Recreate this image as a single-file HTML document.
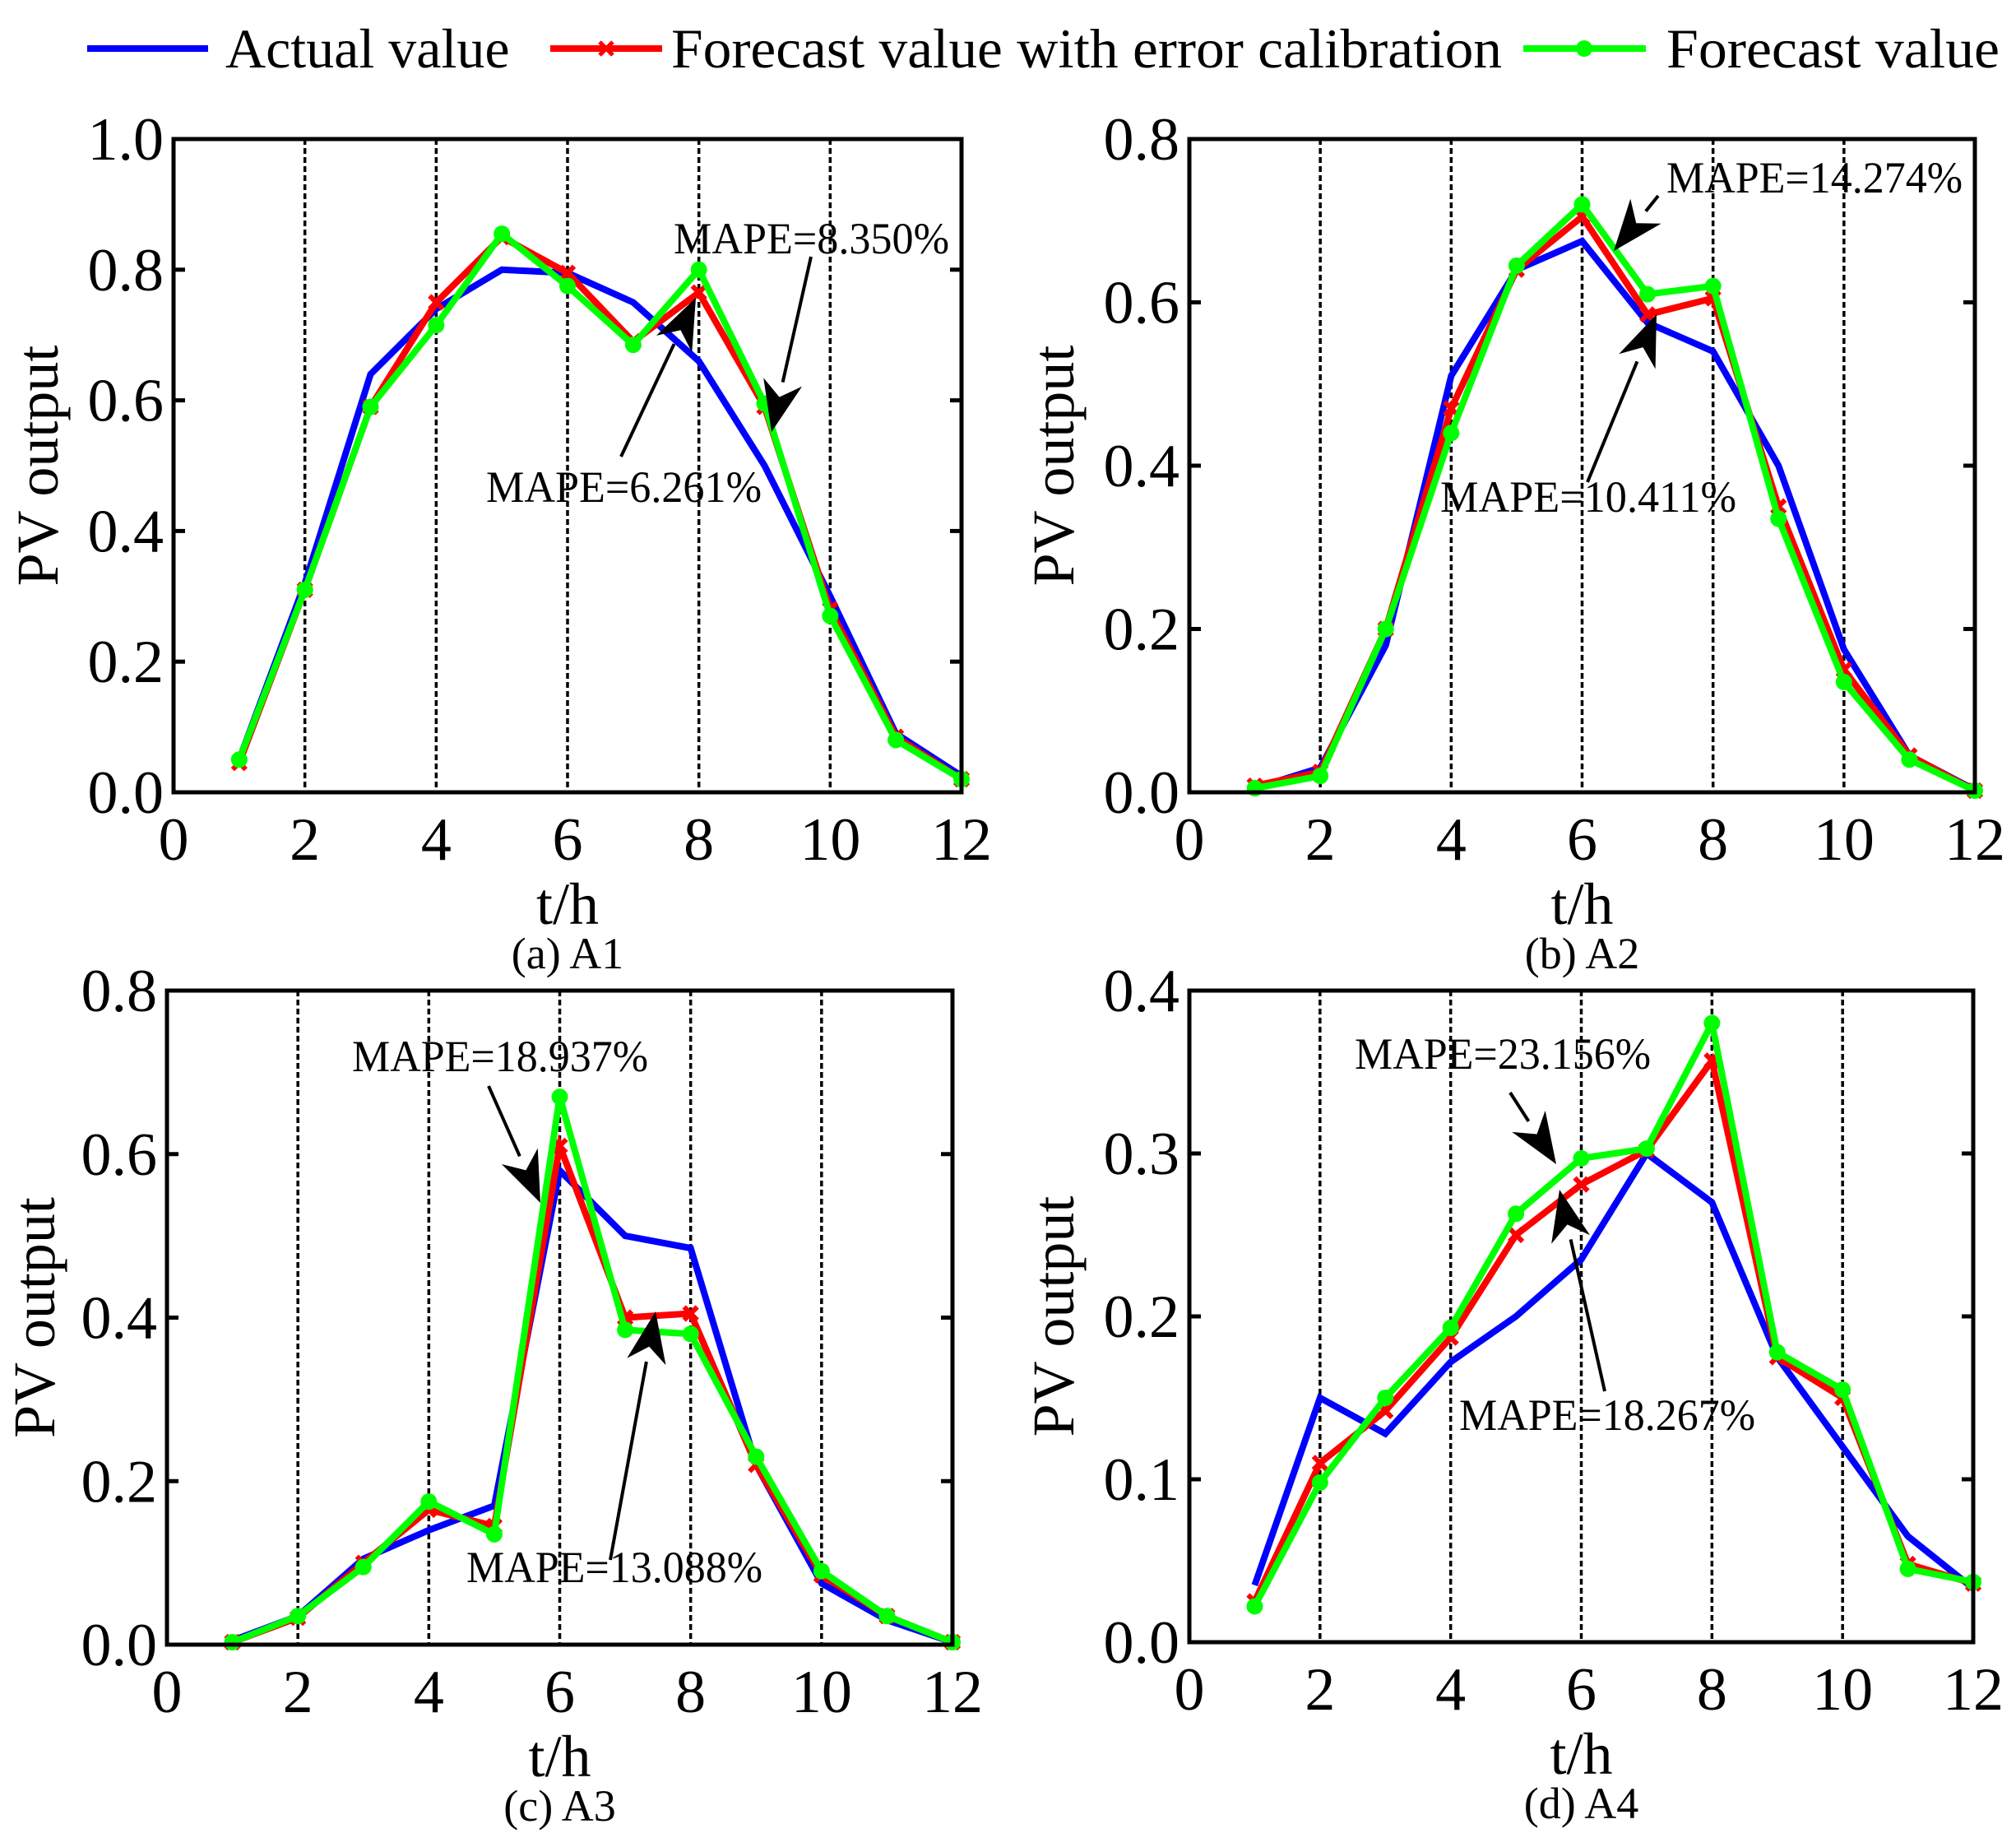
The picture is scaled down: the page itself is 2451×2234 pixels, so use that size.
<!DOCTYPE html>
<html><head><meta charset="utf-8">
<style>
html,body{margin:0;padding:0;background:#fff;}
svg{display:block;font-family:"Liberation Serif",serif;}
</style></head>
<body>
<svg id="fig" width="2451" height="2234" viewBox="0 0 2451 2234">
<g>
  <g>
    <line x1="106" y1="59" x2="253" y2="59" stroke="#0000ff" stroke-width="8"/>
    <text x="274" y="82" font-size="68">Actual value</text>
  </g>
  <g>
    <line x1="669" y1="59" x2="805" y2="59" stroke="#ff0000" stroke-width="8"/>
    <path d="M729,51 L745,67 M745,51 L729,67" stroke="#ff0000" stroke-width="5"/>
    <text x="816" y="82" font-size="68" textLength="1010" lengthAdjust="spacingAndGlyphs">Forecast value with error calibration</text>
  </g>
  <g>
    <line x1="1852" y1="59" x2="2001" y2="59" stroke="#00ff00" stroke-width="8"/>
    <circle cx="1926" cy="59" r="10" fill="#00ff00"/>
    <text x="2026" y="82" font-size="68" textLength="405" lengthAdjust="spacingAndGlyphs">Forecast value</text>
  </g>
</g>
</svg>
<script>
const hours = [1,2,3,4,5,6,7,8,9,10,11,12];
const xTicks = [0,2,4,6,8,10,12];
const a1Actual = [0.05,0.32,0.64,0.74,0.80,0.795,0.75,0.66,0.50,0.30,0.09,0.025];
const a1Calib  = [0.045,0.31,0.59,0.75,0.85,0.795,0.69,0.765,0.59,0.28,0.085,0.02];
const a1Fore   = [0.05,0.31,0.59,0.715,0.855,0.775,0.685,0.80,0.595,0.27,0.08,0.02];
const a1YTicks = ["0.0","0.2","0.4","0.6","0.8","1.0"];
const a2Actual = [0.005,0.03,0.18,0.51,0.64,0.675,0.575,0.54,0.40,0.175,0.045,0.003];
const a2Calib  = [0.008,0.025,0.20,0.47,0.64,0.705,0.585,0.605,0.35,0.15,0.045,0.002];
const a2Fore   = [0.005,0.02,0.20,0.44,0.645,0.72,0.61,0.62,0.335,0.135,0.04,0.002];
const a2YTicks = ["0.0","0.2","0.4","0.6","0.8"];
const a3Actual = [0.005,0.035,0.105,0.14,0.17,0.58,0.50,0.485,0.22,0.075,0.03,0.003];
const a3Calib  = [0.003,0.033,0.10,0.165,0.145,0.61,0.40,0.405,0.22,0.085,0.035,0.003];
const a3Fore   = [0.003,0.035,0.095,0.175,0.135,0.67,0.385,0.38,0.23,0.09,0.035,0.003];
const a3YTicks = ["0.0","0.2","0.4","0.6","0.8"];
const a4Actual = [0.035,0.15,0.128,0.172,0.20,0.235,0.30,0.27,0.175,0.12,0.065,0.033];
const a4Calib  = [0.025,0.11,0.142,0.187,0.25,0.281,0.302,0.357,0.175,0.15,0.048,0.036];
const a4Fore   = [0.022,0.098,0.15,0.193,0.263,0.297,0.303,0.38,0.178,0.155,0.045,0.037];
const a4YTicks = ["0.0","0.1","0.2","0.3","0.4"];

const NS = "http://www.w3.org/2000/svg";
const svg = document.getElementById("fig");
function mk(tag, attrs, parent){
  const e = document.createElementNS(NS, tag);
  for (const k in attrs) e.setAttribute(k, attrs[k]);
  parent.appendChild(e);
  return e;
}

function panel(cfg){
  const g = mk("g", {}, svg);
  
  
  const L=cfg.l, R=cfg.r, T=cfg.t, B=cfg.b;
  const yMax = parseFloat(cfg.yTicks[cfg.yTicks.length-1]);
  const xs = v => L + (v/12)*(R-L);
  const ys = v => B - (v/yMax)*(B-T);
  [2,4,6,8,10].forEach(v=>{
    const d = mk("line",{x1:xs(v),x2:xs(v),y1:T,y2:B,stroke:"#000","stroke-width":3.5,"stroke-dasharray":"7,4"},g);
    
    
  });
  cfg.yTicks.forEach(t=>{
    const v = parseFloat(t), y = ys(v);
    mk("line",{x1:L,x2:L+14,y1:y,y2:y,stroke:"#000","stroke-width":5},g);
    mk("line",{x1:R-14,x2:R,y1:y,y2:y,stroke:"#000","stroke-width":5},g);
    const tx = mk("text",{x:L-12,y:y+25,"font-size":74,"text-anchor":"end"},g);
    tx.textContent = t;
    
    
  });
  xTicks.forEach(v=>{
    const tx = mk("text",{x:xs(v),y:B+82,"font-size":74,"text-anchor":"middle"},g);
    tx.textContent = String(v);
    
    
  });
  const series = [
    {d:cfg.actual,c:"#0000ff",m:null,n:"series-actual"},
    {d:cfg.calib,c:"#ff0000",m:"x",n:"series-forecast-calibrated"},
    {d:cfg.fore,c:"#00ff00",m:"o",n:"series-forecast"}
  ];
  series.forEach(s=>{
    const pts = hours.map((h,i)=>xs(h)+","+ys(s.d[i])).join(" ");
    const pl = mk("polyline",{points:pts,fill:"none",stroke:s.c,"stroke-width":8,"stroke-linejoin":"miter"},g);
    
    
    hours.forEach((h,i)=>{
      const x=xs(h), y=ys(s.d[i]);
      if(s.m==="x"){
        const p = mk("path",{d:`M${x-8},${y-8} L${x+8},${y+8} M${x+8},${y-8} L${x-8},${y+8}`,stroke:s.c,"stroke-width":6},g);
        
        
      } else if(s.m==="o"){
        const c = mk("circle",{cx:x,cy:y,r:10,fill:s.c},g);
        
        
      }
    });
  });
  const fr = mk("rect",{x:L,y:T,width:R-L,height:B-T,fill:"none",stroke:"#000","stroke-width":5},g);
  
  
  const xt = mk("text",{x:(L+R)/2,y:B+160,"font-size":72,"text-anchor":"middle"},g);
  xt.textContent = "t/h";
  
  
  const cy=(T+B)/2, cx=cfg.yTitleX;
  const yt = mk("text",{x:cx,y:cy,"font-size":72,"text-anchor":"middle",transform:`rotate(-90 ${cx} ${cy})`},g);
  yt.textContent = "PV output";
  
  
  const cap = mk("text",{x:(L+R)/2,y:B+214,"font-size":54,"text-anchor":"middle"},g);
  cap.textContent = cfg.caption;
  
  
  cfg.notes.forEach(n=>{
    const t = mk("text",{x:n.tx,y:n.ty,"font-size":54,textLength:n.w,lengthAdjust:"spacingAndGlyphs"},g);
    t.textContent = n.text;
    
    
    const [x1,y1,x2,y2]=n.a;
    const dx=x2-x1, dy=y2-y1, len=Math.hypot(dx,dy), ux=dx/len, uy=dy/len;
    const hl=62, hw=24;
    const bx=x2-ux*hl, by=y2-uy*hl;
    mk("line",{x1:x1,y1:y1,x2:bx,y2:by,stroke:"#000","stroke-width":4},g);
    const ah = mk("polygon",{points:`${x2},${y2} ${bx-uy*hw},${by+ux*hw} ${x2-ux*hl*0.7},${y2-uy*hl*0.7} ${bx+uy*hw},${by-ux*hw}`,fill:"#000"},g);
    
    
  });
}

panel({name:"panel-a1",l:211,r:1169,t:169,b:963,yTicks:a1YTicks,actual:a1Actual,calib:a1Calib,fore:a1Fore,yTitleX:70,caption:"(a) A1",
  notes:[{text:"MAPE=8.350%",tx:819,ty:308,w:335,a:[986,312,938,525]},{text:"MAPE=6.261%",tx:591,ty:610,w:335,a:[755,555,846,362]}]});
panel({name:"panel-a2",l:1446,r:2401,t:169,b:963,yTicks:a2YTicks,actual:a2Actual,calib:a2Calib,fore:a2Fore,yTitleX:1305,caption:"(b) A2",
  notes:[{text:"MAPE=14.274%",tx:2026,ty:234,w:360,a:[2016,238,1962,305]},{text:"MAPE=10.411%",tx:1751,ty:622,w:360,a:[1930,586,2014,382]}]});
panel({name:"panel-a3",l:203,r:1158,t:1204,b:1999,yTicks:a3YTicks,actual:a3Actual,calib:a3Calib,fore:a3Fore,yTitleX:66,caption:"(c) A3",
  notes:[{text:"MAPE=18.937%",tx:428,ty:1302,w:360,a:[594,1320,657,1462]},{text:"MAPE=13.088%",tx:567,ty:1923,w:360,a:[742,1896,797,1594]}]});
panel({name:"panel-a4",l:1446,r:2399,t:1204,b:1996,yTicks:a4YTicks,actual:a4Actual,calib:a4Calib,fore:a4Fore,yTitleX:1305,caption:"(d) A4",
  notes:[{text:"MAPE=23.156%",tx:1647,ty:1299,w:360,a:[1836,1328,1892,1415]},{text:"MAPE=18.267%",tx:1774,ty:1738,w:360,a:[1951,1691,1896,1446]}]});
</script>
</body></html>
